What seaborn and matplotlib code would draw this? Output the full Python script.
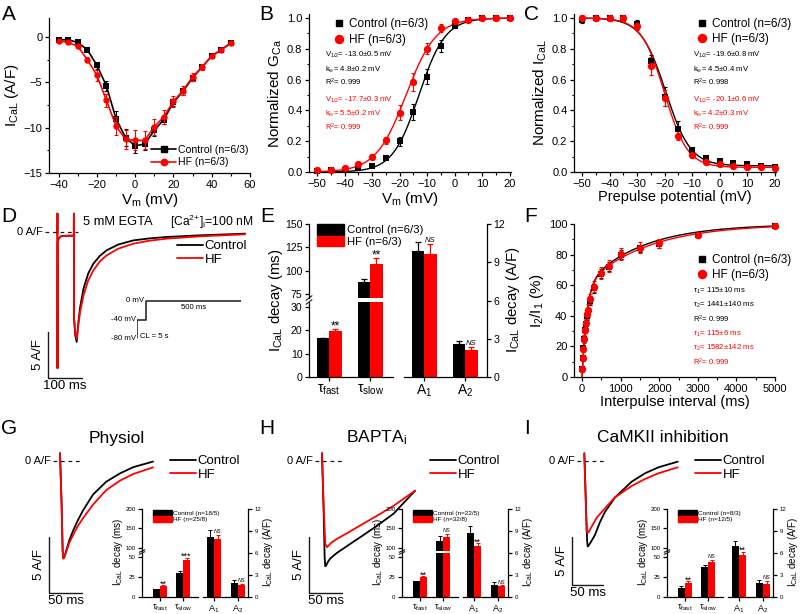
import matplotlib
matplotlib.use("Agg")
import matplotlib.pyplot as plt
import numpy as np
import pandas as pd
import seaborn as sns
from matplotlib.lines import Line2D
from matplotlib.patches import Patch
from matplotlib.ticker import AutoMinorLocator

# ---------------- data ----------------
# A: I-V relation
iv_v = [-40, -35, -30, -25, -20, -15, -10, -5, 0, 5, 10, 15, 20, 25, 30, 35, 40, 45, 50]
iv_ctrl = [-0.3, -0.3, -0.6, -1.4, -3.1, -5.4, -9.0, -11.1, -12.0, -11.8, -10.3, -9.1,
           -7.2, -6.0, -4.5, -3.3, -2.1, -1.4, -0.65]
iv_ctrl_err = [0.1, 0.1, 0.15, 0.25, 0.4, 0.6, 0.8, 0.9, 0.8, 0.7, 0.6, 0.5, 0.4, 0.4,
               0.3, 0.25, 0.2, 0.15, 0.15]
iv_hf = [-0.4, -0.6, -1.0, -2.5, -4.2, -7.0, -9.8, -11.3, -11.4, -11.4, -9.9, -8.8,
         -7.1, -5.9, -4.4, -3.3, -2.1, -1.4, -0.7]
iv_hf_err = [0.1, 0.15, 0.2, 0.3, 0.6, 0.7, 1.0, 1.0, 1.1, 1.0, 0.9, 0.8, 0.6, 0.5,
             0.4, 0.3, 0.2, 0.15, 0.15]

# B: activation
gv_v = [-50, -45, -40, -35, -30, -25, -20, -15, -10, -5, 0, 5, 10, 15, 20]
gv_ctrl = [0.005, 0.01, 0.015, 0.025, 0.04, 0.09, 0.20, 0.39, 0.62, 0.82, 0.95, 0.99, 1.0, 1.0, 1.0]
gv_ctrl_err = [0.005, 0.005, 0.005, 0.008, 0.01, 0.015, 0.03, 0.05, 0.05, 0.04, 0.015, 0.01,
               0.005, 0.005, 0.005]
gv_hf = [0.01, 0.015, 0.025, 0.055, 0.10, 0.205, 0.385, 0.585, 0.80, 0.935, 0.98, 0.99, 1.0, 1.0, 1.0]
gv_hf_err = [0.005, 0.005, 0.008, 0.012, 0.015, 0.025, 0.05, 0.06, 0.035, 0.025, 0.01, 0.01,
             0.005, 0.005, 0.005]
act_fit = {"Control": (-13.0, 4.8), "HF": (-17.7, 5.5)}   # V1/2, k

# C: steady-state inactivation
inact_v = [-50, -45, -40, -35, -30, -25, -20, -15, -10, -5, 0, 5, 10, 15, 20]
inact_ctrl = [0.99, 1.0, 1.0, 1.0, 0.96, 0.72, 0.49, 0.28, 0.14, 0.09, 0.07, 0.06, 0.05, 0.04, 0.035]
inact_ctrl_err = [0.02, 0.01, 0.01, 0.02, 0.03, 0.04, 0.06, 0.05, 0.02, 0.015, 0.01, 0.01,
                  0.01, 0.01, 0.01]
inact_hf = [1.0, 1.0, 1.0, 1.0, 0.95, 0.69, 0.48, 0.235, 0.11, 0.065, 0.05, 0.04, 0.035, 0.03, 0.025]
inact_hf_err = [0.02, 0.02, 0.02, 0.02, 0.03, 0.06, 0.05, 0.03, 0.02, 0.01, 0.01, 0.01,
                0.01, 0.01, 0.01]
inact_fit = {"Control": (-19.6, 4.5, 0.04), "HF": (-20.1, 4.2, 0.03)}   # V1/2, k, floor

# D: representative traces (ms, A/F)
d_t = [0, 0.3, 0.6, 1.5, 4, 12, 30, 48.5, 48.8, 49.2, 53, 57, 62, 67, 77, 91, 106, 125,
       145, 180, 224, 270, 322, 420, 552]
d_ctrl = [-0.1, 2.0, -14.8, -1.1, -0.7, -0.45, -0.4, -0.4, 2.0, -9.4, -11.3, -11.96, -9.8,
          -8.2, -6.16, -4.5, -3.44, -2.6, -1.99, -1.35, -0.91, -0.7, -0.54, -0.36, -0.18]
d_hf = [-0.1, 2.0, -14.8, -1.1, -0.7, -0.45, -0.4, -0.4, 2.0, -9.4, -11.0, -11.6, -10.1,
        -8.7, -6.88, -5.25, -4.17, -3.2, -2.54, -1.8, -1.27, -0.95, -0.72, -0.47, -0.25]
proto_t = [0, 0, 50, 50, 550]
proto_mv = [-80, -40, -40, 0, 0]

# E: decay fit parameters (EGTA)
tau_names = ["fast", "slow"]
amp_names = ["A1", "A2"]
e_tau_ctrl, e_tau_ctrl_err = [16.5, 87.4], [0.3, 4.0]
e_tau_hf, e_tau_hf_err = [19.8, 107.0], [0.7, 6.4]
e_amp_ctrl, e_amp_ctrl_err = [9.85, 2.58], [0.7, 0.26]
e_amp_hf, e_amp_hf_err = [9.63, 2.14], [0.8, 0.18]
e_marks = ["**", "**", "NS", "NS"]

# F: recovery from inactivation
rec_t = [10, 20, 30, 50, 70, 100, 120, 150, 200, 300, 500, 700, 1000, 1500, 2000, 3000, 5000]
rec_ctrl = [5, 12.5, 19, 25, 30.5, 34.5, 40, 42, 50, 58, 67.5, 72, 80, 84, 87, 93, 98.5]
rec_ctrl_err = [1.5, 2, 2, 2, 2, 2.5, 2.5, 3, 3, 3, 3, 3, 3, 2.5, 2.5, 1.5, 1]
rec_hf = [5.5, 12.5, 18.5, 25, 31, 35, 41, 44, 51, 59, 68, 72.5, 80.5, 84.5, 87.5, 92.5, 98.5]
rec_hf_err = [1.5, 2, 2, 2.5, 2.5, 3, 3, 3.5, 3.5, 3.5, 4, 4, 4, 3.5, 3, 1.5, 1]
rec_fit = {"Control": (115, 1441), "HF": (115, 1582)}
rec_amp = (58, 42)

# G-I: traces (ms, A/F)
g_t_ctrl = [0, 2.5, 4, 5, 6.5, 8, 10, 14, 20, 27, 35, 50, 70, 91, 111, 141]
g_ctrl = [0.7, -4.0, -8.0, -8.7, -8.6, -8.3, -7.9, -7.1, -6.2, -5.3, -4.4, -3.0, -1.85, -1.1, -0.55, -0.05]
g_t_hf = [0, 2.5, 4, 5, 6.5, 8, 10, 14, 20, 27, 35, 50, 70, 91, 111, 141]
g_hf = [0.7, -4.0, -8.0, -8.7, -8.6, -8.35, -8.0, -7.3, -6.6, -5.8, -5.1, -3.9, -2.6, -1.75, -1.16, -0.57]

h_t_ctrl = [0, 2.5, 4, 5, 6.5, 9, 12.6, 22.7, 37.8, 58, 83, 108.5, 141]
h_ctrl = [0.7, -4.5, -8.6, -9.4, -9.3, -9.0, -8.7, -8.2, -7.6, -6.8, -5.8, -4.7, -2.65]
h_t_hf = [0, 2.5, 5, 7.5, 10, 14, 22.7, 37.8, 58, 83, 108.5, 141]
h_hf = [0.7, -4.0, -7.4, -7.7, -7.55, -7.3, -6.95, -6.45, -5.75, -4.9, -4.0, -2.65]

i_t_ctrl = [0, 2.5, 4.5, 5.4, 7, 10, 17.2, 25, 33.3, 49.4, 76.3, 97.8, 119.2, 150.4]
i_ctrl = [0.8, -4.2, -8.3, -8.9, -8.8, -8.5, -7.7, -6.4, -5.3, -3.8, -2.15, -1.28, -0.66, -0.07]
i_t_hf = [0, 2.5, 3.8, 5, 7, 11.8, 20, 33.3, 49.4, 76.3, 97.8, 119.2, 150.4]
i_hf = [0.8, -4.5, -7.3, -7.5, -7.4, -6.84, -5.9, -4.93, -3.78, -2.6, -1.87, -1.28, -0.66]

# G-I insets: decay fit parameters
g_tau_ctrl, g_tau_ctrl_err = [9.6, 30.0], [1.0, 2.5]
g_tau_hf, g_tau_hf_err = [13.8, 46.7], [1.0, 2.5]
g_amp_ctrl, g_amp_ctrl_err = [8.16, 1.97], [1.0, 0.3]
g_amp_hf, g_amp_hf_err = [7.93, 1.6], [0.55, 0.2]
g_marks = ["**", "***", "NS", "NS"]

h_tau_ctrl, h_tau_ctrl_err = [19.6, 117.0], [1.0, 14.0]
h_tau_hf, h_tau_hf_err = [25.0, 127.6], [1.5, 8.6]
h_amp_ctrl, h_amp_ctrl_err = [8.7, 1.7], [1.05, 0.35]
h_amp_hf, h_amp_hf_err = [6.9, 1.47], [0.45, 0.15]
h_marks = ["**", "NS", "**", "NS"]

i_tau_ctrl, i_tau_ctrl_err = [11.2, 37.5], [2.0, 3.0]
i_tau_hf, i_tau_hf_err = [17.5, 43.8], [2.0, 3.0]
i_amp_ctrl, i_amp_ctrl_err = [7.0, 1.93], [0.6, 0.37]
i_amp_hf, i_amp_hf_err = [5.73, 1.83], [0.46, 0.37]
i_marks = ["**", "NS", "**", "NS"]

# ---------------- style ----------------
CTRL, HF = "black", "#ff0000"
PAL = {"Control": CTRL, "HF": HF}
W, H = 800, 614

sns.set_theme(style="ticks", rc={
    "axes.edgecolor": "black", "axes.labelcolor": "black", "text.color": "black",
    "xtick.color": "black", "ytick.color": "black", "axes.linewidth": 0.9,
    "xtick.major.width": 0.9, "ytick.major.width": 0.9,
    "xtick.minor.width": 0.8, "ytick.minor.width": 0.8,
    "xtick.major.size": 3.2, "ytick.major.size": 3.2,
    "xtick.minor.size": 1.8, "ytick.minor.size": 1.8,
    "xtick.major.pad": 1.5, "ytick.major.pad": 1.5,
    "axes.facecolor": "none",
})
plt.rcParams["font.family"] = ["Liberation Sans", "DejaVu Sans"]
plt.rcParams["mathtext.fontset"] = "custom"
plt.rcParams["mathtext.rm"] = "Liberation Sans"
plt.rcParams["mathtext.it"] = "Liberation Sans:italic"
plt.rcParams["mathtext.default"] = "regular"

fig = plt.figure(figsize=(8, 6.14), dpi=100)


def box(x0, y0, x1, y1):
    """Axes from a pixel box (top-left origin)."""
    return fig.add_axes([x0 / W, 1 - y1 / H, (x1 - x0) / W, (y1 - y0) / H])


def fpt(x, y):
    return (x / W, 1 - y / H)


def ftext(x, y, s, **kw):
    kw.setdefault("va", "center")
    fig.text(x / W, 1 - y / H, s, **kw)


def style_xy(ax, fs=8):
    sns.despine(ax=ax)
    ax.xaxis.set_minor_locator(AutoMinorLocator(2))
    ax.yaxis.set_minor_locator(AutoMinorLocator(2))
    ax.tick_params(labelsize=fs)


def points(ax, x, y, err, color, marker, size):
    ax.errorbar(x, y, yerr=err, fmt="none", ecolor=color, elinewidth=0.8,
                capsize=1.6, capthick=0.8, clip_on=False, zorder=3)
    sns.scatterplot(x=x, y=y, color=color, marker=marker, s=size, linewidth=0,
                    ax=ax, zorder=4, clip_on=False)


def marker_legend(ax, x, y, fs=8.5, ms=5):
    h = [Line2D([], [], ls="none", marker="s", color=CTRL, ms=ms),
         Line2D([], [], ls="none", marker="o", color=HF, ms=ms + 0.8)]
    ax.legend(h, ["Control (n=6/3)", "HF (n=6/3)"], loc="center left",
              bbox_to_anchor=fpt(x, y), bbox_transform=fig.transFigure, frameon=False,
              fontsize=fs, handlelength=0.8, handletextpad=0.5, borderpad=0,
              borderaxespad=0, labelspacing=0.3)


def fit_text(x, y0, lines_c, lines_h, step=13.8, gap=17):
    for k, s in enumerate(lines_c):
        ftext(x, y0 + k * step, s, fontsize=5.6, color=CTRL)
    for k, s in enumerate(lines_h):
        ftext(x, y0 + 2 * step + gap + k * step, s, fontsize=5.6, color=HF)


# ---------------- A ----------------
ax = box(49, 18, 250, 173)
for y, e, col, mk, ms in [(iv_ctrl, iv_ctrl_err, CTRL, "s", 4), (iv_hf, iv_hf_err, HF, "o", 4.6)]:
    sns.lineplot(x=iv_v, y=y, color=col, marker=mk, markersize=ms, markeredgewidth=0,
                 lw=1.2, ax=ax)
    ax.errorbar(iv_v, y, yerr=e, fmt="none", ecolor=col, elinewidth=0.8, capsize=1.6,
                capthick=0.8)
ax.set_xlim(-45, 60)
ax.set_ylim(-15, 2.1)
ax.set_xticks([-40, -20, 0, 20, 40, 60])
ax.set_yticks([-15, -10, -5, 0])
style_xy(ax)
ax.set_xlabel("V$_m$ (mV)", fontsize=11, labelpad=1)
ax.set_ylabel("I$_{CaL}$ (A/F)", fontsize=11, labelpad=2)
h = [Line2D([], [], color=CTRL, marker="s", ms=4, lw=1.2),
     Line2D([], [], color=HF, marker="o", ms=4.6, lw=1.2)]
ax.legend(h, ["Control (n=6/3)", "HF (n=6/3)"], loc="center left",
          bbox_to_anchor=fpt(151, 156), bbox_transform=fig.transFigure, frameon=False,
          fontsize=7.6, handlelength=2.4, handletextpad=0.2, borderpad=0,
          borderaxespad=0, labelspacing=0.25)

# ---------------- B ----------------
ax = box(309, 14, 511, 172)
grid = np.linspace(-50, 20, 300)
for g, col in [("Control", CTRL), ("HF", HF)]:
    v12, k = act_fit[g]
    sns.lineplot(x=grid, y=1 / (1 + np.exp((v12 - grid) / k)), color=col, lw=1.0, ax=ax)
points(ax, gv_v, gv_ctrl, gv_ctrl_err, CTRL, "s", 20)
points(ax, gv_v, gv_hf, gv_hf_err, HF, "o", 28)
ax.set_xlim(-53, 20.5)
ax.set_ylim(0, 1.026)
ax.set_xticks(range(-50, 21, 10))
ax.set_yticks(np.arange(0, 1.01, 0.2))
style_xy(ax)
ax.set_xlabel("V$_m$ (mV)", fontsize=11, labelpad=1)
ax.set_ylabel("Normalized G$_{Ca}$", fontsize=11, labelpad=2)
marker_legend(ax, 334, 32)
fit_text(325, 55, ["V$_{1/2}$= -13.0±0.5 mV", "k$_{∞}$= 4.8±0.2 mV", "R$^2$= 0.999"],
         ["V$_{1/2}$= -17.7±0.3 mV", "k$_{∞}$= 5.5±0.2 mV", "R$^2$= 0.999"])

# ---------------- C ----------------
ax = box(574, 14, 776, 172)
for g, col in [("Control", CTRL), ("HF", HF)]:
    v12, k, c = inact_fit[g]
    sns.lineplot(x=grid, y=c + (1 - c) / (1 + np.exp((grid - v12) / k)), color=col,
                 lw=1.0, ax=ax)
points(ax, inact_v, inact_ctrl, inact_ctrl_err, CTRL, "s", 20)
points(ax, inact_v, inact_hf, inact_hf_err, HF, "o", 28)
ax.set_xlim(-53, 20.5)
ax.set_ylim(0, 1.026)
ax.set_xticks(range(-50, 21, 10))
ax.set_yticks(np.arange(0, 1.01, 0.2))
style_xy(ax)
ax.set_xlabel("Prepulse potential (mV)", fontsize=10.5, labelpad=1)
ax.set_ylabel("Normalized I$_{CaL}$", fontsize=11, labelpad=2)
marker_legend(ax, 697, 31.5)
fit_text(693, 55, ["V$_{1/2}$= -19.6±0.8 mV", "k$_{∞}$= 4.5±0.4 mV", "R$^2$= 0.998"],
         ["V$_{1/2}$= -20.1±0.6 mV", "k$_{∞}$= 4.2±0.3 mV", "R$^2$= 0.999"])


# ---------------- traces ----------------
def trace_axes(x0, y0, x1, y1, t0_px, ms_px, zero_px, af_px):
    a = box(x0, y0, x1, y1)
    a.set_xlim((x0 - t0_px) * ms_px, (x1 - t0_px) * ms_px)
    a.set_ylim(-(y1 - zero_px) * af_px, (zero_px - y0) * af_px)
    a.axis("off")
    return a, (lambda px: (px - t0_px) * ms_px), (lambda py: -(py - zero_px) * af_px)


def draw_traces(a, t_c, i_c, t_h, i_h):
    sns.lineplot(x=t_c, y=i_c, color=CTRL, lw=1.3, sort=False, estimator=None, ax=a)
    sns.lineplot(x=t_h, y=i_h, color=HF, lw=1.3, sort=False, estimator=None, ax=a)


def scale_bar(a, t, i, dt, di, tlab, ilab):
    a.plot([t, t, t + dt], [i + di, i, i], color="k", lw=1.0, clip_on=False)
    a.annotate(ilab, (t, i + di / 2), xytext=(-3, 0), textcoords="offset points",
               rotation=90, ha="right", va="center", fontsize=9.5)
    a.annotate(tlab, (t + dt / 2, i), xytext=(0, -1.5), textcoords="offset points",
               ha="center", va="top", fontsize=9.5)


def zero_mark(a, t0, t1):
    a.plot([t0, t1], [0, 0], color="k", lw=0.9, ls=(0, (3, 3)), clip_on=False)
    a.annotate("0 A/F", (t0, 0), xytext=(-1.5, 0), textcoords="offset points",
               ha="right", va="center", fontsize=8)


def line_legend(a, x, y):
    h = [Line2D([], [], color=CTRL, lw=1.3), Line2D([], [], color=HF, lw=1.3)]
    a.legend(h, ["Control", "HF"], loc="center left", bbox_to_anchor=fpt(x, y),
             bbox_transform=fig.transFigure, frameon=False, fontsize=9.5,
             handlelength=2.0, handletextpad=0.1, borderpad=0, borderaxespad=0,
             labelspacing=0.12)


# D
ax, tx, iy = trace_axes(40, 208, 258, 392, 57.3, 2.94, 232, 0.1087)
draw_traces(ax, d_t, d_ctrl, d_t, d_hf)
scale_bar(ax, tx(48), iy(378), 100, 5, "100 ms", "5 A/F")
zero_mark(ax, tx(45), tx(78))
line_legend(ax, 177, 253)
ftext(83, 222, "5 mM EGTA", fontsize=9.3)
ftext(170, 222, "[Ca$^{2{+}}$]$_i$=100 nM", fontsize=8.7)

pax = box(137, 296, 241, 342)
sns.lineplot(x=proto_t, y=proto_mv, color="k", lw=1.1, sort=False, estimator=None, ax=pax)
pax.set_xlim(0, 550)
pax.set_ylim(-88.6, 10.8)
pax.axis("off")
for s, xy, off, ha in [("0 mV", (50, 0), (-2, 0), "right"), ("-40 mV", (0, -40), (-1, 0), "right"),
                       ("-80 mV", (0, -80), (-1, 0), "right")]:
    pax.annotate(s, xy, xytext=off, textcoords="offset points", ha=ha, va="center", fontsize=5.6)
pax.annotate("500 ms", (300, 0), xytext=(0, -2), textcoords="offset points", ha="center",
             va="top", fontsize=5.6)
pax.annotate("CL = 5 s", (0, -80), xytext=(2, 1), textcoords="offset points", ha="left",
             va="center", fontsize=5.6)


# ---------------- decay bar charts ----------------
def bars(a, names, ctrl, hf, ctrl_err, hf_err, lw, cap):
    df = pd.DataFrame({"param": names + names,
                       "group": ["Control"] * len(names) + ["HF"] * len(names),
                       "value": ctrl + hf})
    sns.barplot(data=df, x="param", y="value", hue="group", order=names,
                hue_order=["Control", "HF"], palette=PAL, saturation=1, width=0.61,
                errorbar=None, legend=False, linewidth=0, ax=a)
    tops = []
    for cont, err, col in zip(a.containers, [ctrl_err, hf_err], [CTRL, HF]):
        xs = [p.get_x() + p.get_width() / 2 for p in cont]
        ys = [p.get_height() for p in cont]
        a.errorbar(xs, ys, yerr=[np.zeros(len(xs)), err], fmt="none", ecolor=col,
                   elinewidth=lw, capsize=cap, capthick=lw)
        tops.append([(x, y + e) for x, y, e in zip(xs, ys, err)])
    a.set_xlabel("")
    a.set_ylabel("")
    return tops[1]


def put_marks(axes, tops, marks, fs_star, fs_ns):
    for (x, y), m in zip(tops, marks):
        for a in axes:
            lo, hi = a.get_ylim()
            if lo <= y <= hi:
                if m == "NS":
                    a.annotate(m, (x, y), xytext=(0, 0.3), textcoords="offset points",
                               ha="center", va="bottom", fontsize=fs_ns, style="italic")
                else:
                    a.annotate(m, (x, y), xytext=(0, -2.5), textcoords="offset points",
                               ha="center", va="bottom", fontsize=fs_star)
                break


def decay_panel(lo_box, hi_box, r_box, lo_lim, hi_lim, lo_ticks, hi_ticks,
                xl_left, xl_right, tau, amp, marks, small):
    tick_fs, cat_fs = (4.4, 6.5) if small else (7.6, 10)
    lw, cap = (0.7, 1.4) if small else (0.9, 2.2)
    lo = box(*lo_box)
    hi = box(*hi_box)
    r = box(*r_box)
    for a, lim in [(lo, lo_lim), (hi, hi_lim)]:
        tau_tops = bars(a, tau_names, tau[0], tau[1], tau[2], tau[3], lw, cap)
        a.set_ylim(*lim)
        a.set_xlim(*xl_left)
    amp_tops = bars(r, amp_names, amp[0], amp[1], amp[2], amp[3], lw, cap)
    r.set_ylim(0, 12)
    r.set_xlim(*xl_right)
    sns.despine(ax=lo)
    sns.despine(ax=hi, bottom=True)
    sns.despine(ax=r, left=True, right=False)
    hi.tick_params(axis="x", bottom=False, labelbottom=False)
    lo.set_yticks(lo_ticks)
    hi.set_yticks(hi_ticks)
    r.yaxis.tick_right()
    r.set_yticks([0, 3, 6, 9, 12])
    for a in (lo, hi, r):
        a.tick_params(axis="y", labelsize=tick_fs)
        a.tick_params(axis="x", labelsize=cat_fs, pad=1)
    lo.set_xticks([0, 1])
    lo.set_xticklabels(["τ$_{fast}$", "τ$_{slow}$"])
    r.set_xticks([0, 1])
    r.set_xticklabels(["A$_1$", "A$_2$"])
    d = 0.05 if small else 0.035
    for a, yy in [(lo, 1.0), (hi, 0.0)]:
        a.plot([-d, d], [yy - 0.03, yy + 0.03], transform=a.transAxes, color="k",
               lw=0.8, clip_on=False)
    fs_star, fs_ns = (6.5, 4.0) if small else (8.5, 5.5)
    put_marks([lo, hi], tau_tops, marks[:2], fs_star, fs_ns)
    put_marks([r], amp_tops, marks[2:], fs_star, fs_ns)
    return lo, hi, r


# E
lo, hi, r = decay_panel((309, 302, 393, 377), (309, 224, 393, 298),
                        (404, 224, 487, 377), (0, 32.1), (70.7, 150), [0, 10, 20, 30],
                        [75, 100, 125, 150], (-0.49, 1.56), (-0.49, 1.53),
                        (e_tau_ctrl, e_tau_hf, e_tau_ctrl_err, e_tau_hf_err),
                        (e_amp_ctrl, e_amp_hf, e_amp_ctrl_err, e_amp_hf_err), e_marks, False)
ftext(276, 300, "I$_{CaL}$ decay (ms)", fontsize=10.8, rotation=90, ha="center")
ftext(513, 300, "I$_{CaL}$ decay (A/F)", fontsize=10.8, rotation=90, ha="center")
h = [Patch(color=CTRL), Patch(color=HF)]
hi.legend(h, ["Control (n=6/3)", "HF (n=6/3)"], loc="upper left", bbox_to_anchor=fpt(317, 224),
          bbox_transform=fig.transFigure, frameon=False, fontsize=8.2, handlelength=2.4,
          handleheight=1.1, handletextpad=0.2, borderpad=0, borderaxespad=0, labelspacing=0.02)

# ---------------- F ----------------
ax = box(574, 224, 775, 377)
tgrid = np.linspace(0, 5000, 600)
for g, col in [("Control", CTRL), ("HF", HF)]:
    t1, t2 = rec_fit[g]
    sns.lineplot(x=tgrid, y=100 - rec_amp[0] * np.exp(-tgrid / t1) - rec_amp[1] * np.exp(-tgrid / t2),
                 color=col, lw=1.0, ax=ax)
points(ax, rec_t, rec_ctrl, rec_ctrl_err, CTRL, "s", 20)
points(ax, rec_t, rec_hf, rec_hf_err, HF, "o", 28)
ax.set_xlim(-210, 5000)
ax.set_ylim(0, 100)
ax.set_xticks(range(0, 5001, 1000))
ax.set_yticks(range(0, 101, 20))
style_xy(ax)
ax.set_xlabel("Interpulse interval (ms)", fontsize=10.5, labelpad=1)
ax.set_ylabel("I$_2$/I$_1$ (%)", fontsize=11, labelpad=2)
marker_legend(ax, 697, 267.5)
fit_text(693, 291, ["τ$_1$= 115±10 ms", "τ$_2$= 1441±140 ms", "R$^2$= 0.999"],
         ["τ$_1$= 115±6 ms", "τ$_2$= 1582±142 ms", "R$^2$= 0.999"], step=14, gap=15)

# ---------------- G, H, I ----------------
panels = [
    (0, "Physiol", (60, 1.515, 5 / 56), (g_t_ctrl, g_ctrl, g_t_hf, g_hf),
     (g_tau_ctrl, g_tau_hf, g_tau_ctrl_err, g_tau_hf_err),
     (g_amp_ctrl, g_amp_hf, g_amp_ctrl_err, g_amp_hf_err), g_marks, "Control (n=18/5)", "HF (n=25/8)",
     (49, 537, 593)),
    (260, "BAPTA$_i$", (322, 1.515, 5 / 56), (h_t_ctrl, h_ctrl, h_t_hf, h_hf),
     (h_tau_ctrl, h_tau_hf, h_tau_ctrl_err, h_tau_hf_err),
     (h_amp_ctrl, h_amp_hf, h_amp_ctrl_err, h_amp_hf_err), h_marks, "Control (n=22/5)", "HF (n=32/8)",
     (309, 537, 593)),
    (525, "CaMKII inhibition", (584.3, 1.61, 5 / 48), (i_t_ctrl, i_ctrl, i_t_hf, i_hf),
     (i_tau_ctrl, i_tau_hf, i_tau_ctrl_err, i_tau_hf_err),
     (i_amp_ctrl, i_amp_hf, i_amp_ctrl_err, i_amp_hf_err), i_marks, "Control (n=8/3)", "HF (n=12/5)",
     (572, 537, 585)),
]
title_x = [117, 377, 663]
for (dx, title, (t0, msp, afp), tr, tau, amp, marks, lab_c, lab_h, sb), tx_c in zip(panels, title_x):
    ax, tx, iy = trace_axes(dx + 35, 440, dx + 160, 600, t0, msp, 461, afp)
    draw_traces(ax, *tr)
    scale_bar(ax, tx(sb[0]), iy(sb[2]), 50, 5, "50 ms", "5 A/F")
    zero_mark(ax, tx(t0 - 7), tx(t0 + 20))
    line_legend(ax, dx + 170, 468)
    ftext(tx_c, 438, title, fontsize=12.5, ha="center")
    lo, hi, r = decay_panel((dx + 142, 553, dx + 198, 597),
                            (dx + 142, 509, dx + 198, 551), (dx + 203, 509, dx + 248, 597),
                            (0, 55), (92.3, 200), [0, 25, 50], [100, 150, 200],
                            (-0.78, 1.65), (-0.46, 1.42), tau, amp, marks, True)
    ftext(dx + 118, 552, "I$_{CaL}$ decay (ms)", fontsize=7.0, rotation=90, ha="center")
    ftext(dx + 268, 552, "I$_{CaL}$ decay (A/F)", fontsize=7.0, rotation=90, ha="center")
    h = [Patch(color=CTRL), Patch(color=HF)]
    hi.legend(h, [lab_c, lab_h], loc="upper left", bbox_to_anchor=fpt(dx + 153, 509.5),
              bbox_transform=fig.transFigure, frameon=False, fontsize=4.6, handlelength=3.0,
              handleheight=1.1, handletextpad=0.2, borderpad=0, borderaxespad=0,
              labelspacing=0.05)

# ---------------- panel letters ----------------
for s, x, y in [("A", 2, 14), ("B", 259, 14), ("C", 524, 14), ("D", 1, 217), ("E", 260, 217),
                ("F", 524, 217), ("G", 1, 428), ("H", 259, 428), ("I", 524, 428)]:
    ftext(x, y, s, fontsize=15)

fig.savefig("out.png", dpi=100)
